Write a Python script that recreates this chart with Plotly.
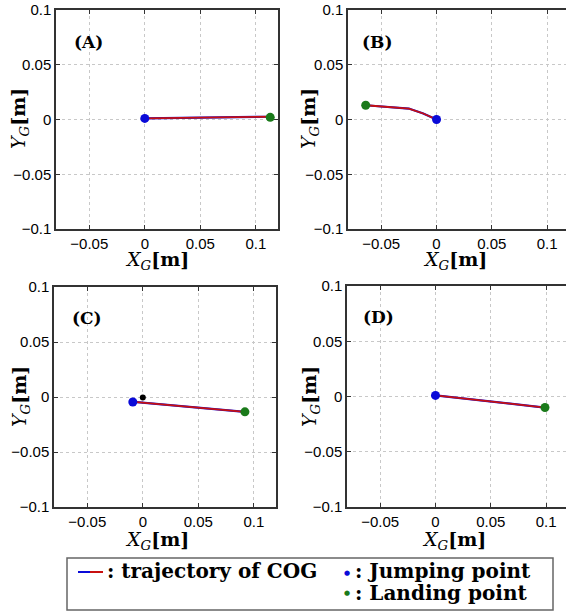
import plotly.graph_objects as go

W, H = 566, 615

# ---- data ----
panels = ["A", "B", "C", "D"]
traj_x = {
    "A": [0.0, 0.113],
    "B": [0.0, -0.012, -0.025, -0.045, -0.064],
    "C": [-0.008, 0.092],
    "D": [0.0, 0.099],
}
traj_y = {
    "A": [0.001, 0.0025],
    "B": [0.0, 0.0055, 0.010, 0.0115, 0.013],
    "C": [-0.0045, -0.0135],
    "D": [0.001, -0.010],
}
jump_x = {"A": 0.0, "B": 0.0, "C": -0.009, "D": 0.0}
jump_y = {"A": 0.001, "B": 0.0, "C": -0.0045, "D": 0.001}
land_x = {"A": 0.113, "B": -0.064, "C": 0.092, "D": 0.099}
land_y = {"A": 0.002, "B": 0.013, "C": -0.0135, "D": -0.010}
extra_x = {"C": [0.0]}
extra_y = {"C": [-0.0005]}

x_ticks = [-0.05, 0, 0.05, 0.1]
x_ticklabels = ["−0.05", "0", "0.05", "0.1"]
y_ticks = [-0.1, -0.05, 0, 0.05, 0.1]
y_ticklabels = ["−0.1", "−0.05", "0", "0.05", "0.1"]

legend_line_label = ": trajectory of COG"
legend_jump_label = ": Jumping point"
legend_land_label = ": Landing point"

# ---- layout geometry (pixels) ----
geom = {
    "A": dict(x0=56, x1=278, y0=10, y1=229, xr=[-0.08, 0.12]),
    "B": dict(x0=348, x1=566, y0=10, y1=229, xr=[-0.08, 0.117]),
    "C": dict(x0=54, x1=276, y0=287, y1=507, xr=[-0.08, 0.12]),
    "D": dict(x0=347, x1=566, y0=286, y1=507, xr=[-0.08, 0.118]),
}

def px(x):
    return x / W

def py(y):
    return 1 - y / H

BLUE = "#0a0ad8"
RED = "#c81010"
GREEN = "#1a7a1a"
SERIF = "DejaVu Serif, Liberation Serif, serif"
SANS = "Liberation Sans, Arial, sans-serif"

fig = go.Figure()
annotations = []
shapes = []

def ann(text, x, y, size, xanchor="center", textangle=0):
    annotations.append(dict(text=text, x=px(x), y=py(y), xref="paper", yref="paper",
                            xanchor=xanchor, yanchor="middle", showarrow=False,
                            textangle=textangle,
                            font=dict(family=SERIF, size=size, color="black")))

for i, p in enumerate(panels, start=1):
    sfx = "" if i == 1 else str(i)
    xa, ya = "x" + sfx, "y" + sfx
    g = geom[p]
    fig.add_trace(go.Scatter(x=traj_x[p], y=traj_y[p], mode="lines",
                             line=dict(color=BLUE, width=2.2), xaxis=xa, yaxis=ya,
                             showlegend=False, hoverinfo="skip"))
    fig.add_trace(go.Scatter(x=traj_x[p], y=traj_y[p], mode="lines",
                             line=dict(color=RED, width=1.8), xaxis=xa, yaxis=ya,
                             showlegend=False, hoverinfo="skip"))
    if p in extra_x:
        fig.add_trace(go.Scatter(x=extra_x[p], y=extra_y[p], mode="markers",
                                 marker=dict(color="black", size=6), xaxis=xa, yaxis=ya,
                                 showlegend=False, hoverinfo="skip"))
    fig.add_trace(go.Scatter(x=[jump_x[p]], y=[jump_y[p]], mode="markers",
                             marker=dict(color=BLUE, size=9), xaxis=xa, yaxis=ya,
                             showlegend=False, hoverinfo="skip"))
    fig.add_trace(go.Scatter(x=[land_x[p]], y=[land_y[p]], mode="markers",
                             marker=dict(color=GREEN, size=9), xaxis=xa, yaxis=ya,
                             showlegend=False, hoverinfo="skip"))

    right_side = p in ("B", "D")
    fig.layout["xaxis" + sfx] = dict(
        domain=[px(g["x0"]), px(g["x1"])], range=g["xr"], anchor=ya, automargin=False,
        tickvals=x_ticks, ticktext=x_ticklabels, ticks="inside", ticklen=4,
        tickcolor="#333", showline=True, linecolor="#333", linewidth=1.5,
        mirror="ticks", showgrid=True, gridcolor="#c8c8c8", griddash="dot",
        gridwidth=1, zeroline=False, tickfont=dict(family=SANS, size=15, color="black"),
        fixedrange=True)
    fig.layout["yaxis" + sfx] = dict(
        domain=[py(g["y1"]), py(g["y0"])], range=[-0.1, 0.1], anchor=xa, automargin=False,
        tickvals=y_ticks, ticktext=y_ticklabels, ticks="inside", ticklen=4,
        tickcolor="#333", showline=True, linecolor="#333", linewidth=1.5,
        mirror=False if right_side else "ticks", showgrid=True, gridcolor="#c8c8c8",
        griddash="dot", gridwidth=1, zeroline=False,
        tickfont=dict(family=SANS, size=15, color="black"), fixedrange=True)

    lab_pos = {"A": (88, 42), "B": (377, 42), "C": (87, 318), "D": (378, 317)}[p]
    ann("<b>(" + p + ")</b>", lab_pos[0], lab_pos[1], 17)
    xt = {"A": (157, 260), "B": (455, 260), "C": (157, 540), "D": (454, 540)}[p]
    yt = {"A": (20, 119), "B": (310, 119), "C": (20, 397), "D": (310, 397)}[p]
    ann("<i>X</i><sub><i>G</i></sub><b>[m]</b>", xt[0], xt[1], 19)
    ann("<i>Y</i><sub><i>G</i></sub><b>[m]</b>", yt[0], yt[1], 19, textangle=-90)

# ---- custom legend box ----
shapes.append(dict(type="rect", xref="paper", yref="paper",
                   x0=px(67), x1=px(553), y0=py(610), y1=py(558),
                   line=dict(color="#666", width=1.5), fillcolor="white", layer="below"))
shapes.append(dict(type="line", xref="paper", yref="paper",
                   x0=px(78), x1=px(90), y0=py(572), y1=py(572),
                   line=dict(color=BLUE, width=2)))
shapes.append(dict(type="line", xref="paper", yref="paper",
                   x0=px(90), x1=px(103), y0=py(572), y1=py(572),
                   line=dict(color=RED, width=2)))
ann("<b>" + legend_line_label + "</b>", 105, 571, 20, xanchor="left")
ann("<span style='color:%s'>●</span>" % BLUE, 347, 573, 7)
ann("<span style='color:%s'>●</span>" % GREEN, 347, 593, 7)
ann("<b>" + legend_jump_label + "</b>", 353, 571, 20, xanchor="left")
ann("<b>" + legend_land_label + "</b>", 353, 593, 20, xanchor="left")

fig.update_layout(width=W, height=H, margin=dict(l=0, r=0, t=0, b=0, autoexpand=False),
                  paper_bgcolor="white", plot_bgcolor="white",
                  annotations=annotations, shapes=shapes, showlegend=False)

fig.write_html("out.html", config={"displayModeBar": False},
               post_script="document.body.style.margin='0px';document.body.style.overflow='hidden';")
